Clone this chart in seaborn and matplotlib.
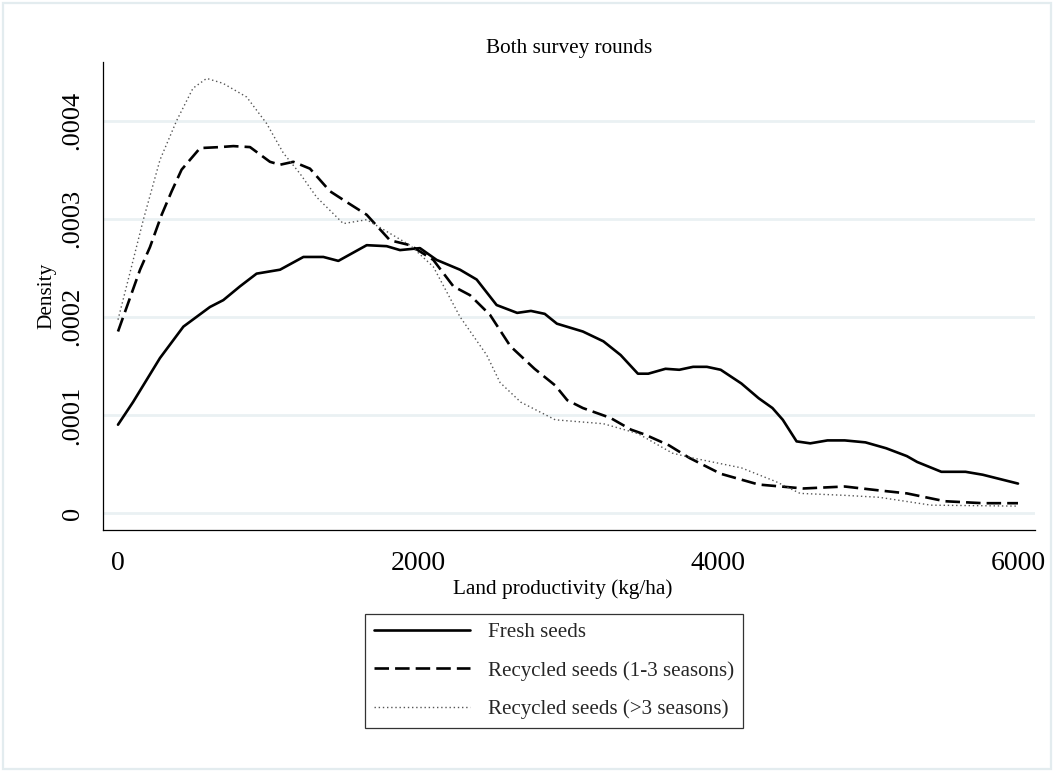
import numpy as np
import pandas as pd
import matplotlib
matplotlib.use("Agg")
import matplotlib.pyplot as plt
import seaborn as sns
from matplotlib.patches import Rectangle
from matplotlib.lines import Line2D

# ---------------- data ----------------
fresh_x = [0, 100, 200, 280, 436, 613, 702, 813, 924, 1080, 1236, 1369, 1469, 1658,
           1791, 1880, 2013, 2124, 2280, 2391, 2524, 2661, 2753, 2845, 2926, 3099,
           3236, 3351, 3466, 3535, 3650, 3742, 3834, 3926, 4018, 4156, 4271, 4363,
           4432, 4524, 4615, 4730, 4845, 4983, 5121, 5259, 5328, 5489, 5650, 5765, 6000]
fresh_y = [0.90, 1.13, 1.38, 1.58, 1.90, 2.10, 2.17, 2.31, 2.44, 2.48, 2.61, 2.61, 2.57, 2.73,
           2.72, 2.68, 2.70, 2.58, 2.48, 2.38, 2.12, 2.04, 2.06, 2.03, 1.93, 1.85,
           1.75, 1.61, 1.42, 1.42, 1.47, 1.46, 1.49, 1.49, 1.46, 1.32, 1.17, 1.07,
           0.95, 0.73, 0.71, 0.74, 0.74, 0.72, 0.66, 0.58, 0.52, 0.42, 0.42, 0.39, 0.30]

rec13_x = [0, 147, 213, 291, 358, 424, 547, 680, 769, 880, 1013, 1080, 1169, 1280, 1413,
           1524, 1658, 1813, 1947, 2102, 2236, 2347, 2480, 2616, 2777, 2915, 2995, 3099,
           3282, 3420, 3512, 3673, 3811, 4018, 4271, 4569, 4845, 5075, 5259, 5512, 5765, 6000]
rec13_y = [1.85, 2.48, 2.71, 3.04, 3.28, 3.50, 3.72, 3.73, 3.74, 3.73, 3.58, 3.55, 3.58, 3.51, 3.28,
           3.17, 3.04, 2.78, 2.73, 2.58, 2.31, 2.22, 2.02, 1.70, 1.47, 1.30, 1.15, 1.07,
           0.97, 0.85, 0.80, 0.69, 0.56, 0.40, 0.29, 0.25, 0.27, 0.23, 0.20, 0.12, 0.10, 0.10]

rec3_x = [0, 80, 169, 280, 391, 500, 591, 700, 858, 991, 1102, 1213, 1324, 1502, 1658, 1813,
          1947, 2102, 2280, 2458, 2547, 2685, 2915, 3236, 3466, 3696, 3834, 4156, 4386, 4547,
          4845, 5075, 5420, 6000]
rec3_y = [1.97, 2.45, 2.99, 3.60, 4.00, 4.33, 4.43, 4.38, 4.24, 3.97, 3.67, 3.46, 3.22, 2.95, 2.99, 2.85,
          2.73, 2.51, 2.00, 1.61, 1.33, 1.13, 0.95, 0.91, 0.81, 0.61, 0.56, 0.46, 0.32, 0.20,
          0.18, 0.16, 0.08, 0.07]

SCALE = 1e-4  # density values above are in units of 0.0001

series_names = ["Fresh seeds", "Recycled seeds (1-3 seasons)", "Recycled seeds (>3 seasons)"]
xticks = [0, 2000, 4000, 6000]
xtick_labels = ["0", "2000", "4000", "6000"]
yticks = [0, 0.0001, 0.0002, 0.0003, 0.0004]
ytick_labels = ["0", ".0001", ".0002", ".0003", ".0004"]

# ---------------- styling ----------------
sns.set_theme(style="white")
plt.rcParams["font.family"] = ["Liberation Serif", "DejaVu Serif"]

W, H = 1056, 771
fig = plt.figure(figsize=(W / 100, H / 100), dpi=100)
fig.patch.set_facecolor("white")

left, right, top, bottom = 103, 1035, 62, 530
ax = fig.add_axes([left / W, 1 - bottom / H, (right - left) / W, (bottom - top) / H])
ax.set_facecolor("white")

# outer light frame (graph region)
fig.patches.append(Rectangle((3 / W, 2 / H), (1051 - 3) / W, (768 - 2) / H,
                             transform=fig.transFigure, fill=False,
                             edgecolor="#e3ecef", linewidth=1.6))

df_fresh = pd.DataFrame({"x": fresh_x, "y": np.array(fresh_y) * SCALE})
df_r13 = pd.DataFrame({"x": rec13_x, "y": np.array(rec13_y) * SCALE})
df_r3 = pd.DataFrame({"x": rec3_x, "y": np.array(rec3_y) * SCALE})

styles = [
    dict(color="black", linewidth=1.9, linestyle="-"),
    dict(color="black", linewidth=1.9, linestyle=(0, (5.5, 2.3))),
    dict(color="#555555", linewidth=1.0, linestyle=(0, (1, 2))),
]

for df, st in zip([df_fresh, df_r13, df_r3], styles):
    sns.lineplot(data=df, x="x", y="y", ax=ax, sort=False, estimator=None, **st)

ax.set_xlim((left - 118) / 0.15, (right - 118) / 0.15)
ax.set_ylim((513 - bottom) / 98.1 * 1e-4, (513 - top) / 98.1 * 1e-4)

ax.set_xticks(xticks)
ax.set_xticklabels(xtick_labels)
ax.set_yticks(yticks)
ax.set_yticklabels(ytick_labels, rotation=90, va="center")

ax.grid(False)
ax.yaxis.grid(True, color="#eaf1f3", linewidth=2.0)
ax.set_axisbelow(True)

for s in ["top", "right"]:
    ax.spines[s].set_visible(False)
for s in ["left", "bottom"]:
    ax.spines[s].set_color("black")
    ax.spines[s].set_linewidth(0.9)

ax.tick_params(axis="both", which="major", direction="out", length=7.0, width=0.8,
               color="black", labelcolor="black")
ax.tick_params(axis="x", pad=8, labelsize=20)
ax.tick_params(axis="y", pad=7, labelsize=19)

ax.set_xlabel("Land productivity (kg/ha)", fontsize=15.3, color="black")
ax.xaxis.set_label_coords((563 - left) / (right - left), (bottom - 579) / (bottom - top))
ax.set_ylabel("Density", fontsize=15.3, color="black")
ax.yaxis.set_label_coords((56 - left) / (right - left), 0.5)
ax.set_title("Both survey rounds", fontsize=15.3, color="black", pad=6.5)

handles = [Line2D([0], [0], **st) for st in styles]
leg = fig.legend(handles, series_names, loc="upper center",
                 bbox_to_anchor=(554 / W, 1 - 614 / H), bbox_transform=fig.transFigure,
                 fontsize=15.1, frameon=True, fancybox=False, shadow=False,
                 handlelength=4.6, handletextpad=0.86, borderpad=0.4, labelspacing=0.9,
                 borderaxespad=0)
leg.get_frame().set_edgecolor("black")
leg.get_frame().set_linewidth(0.9)
leg.get_frame().set_facecolor("white")

fig.savefig("out.png", dpi=100, facecolor="white")
